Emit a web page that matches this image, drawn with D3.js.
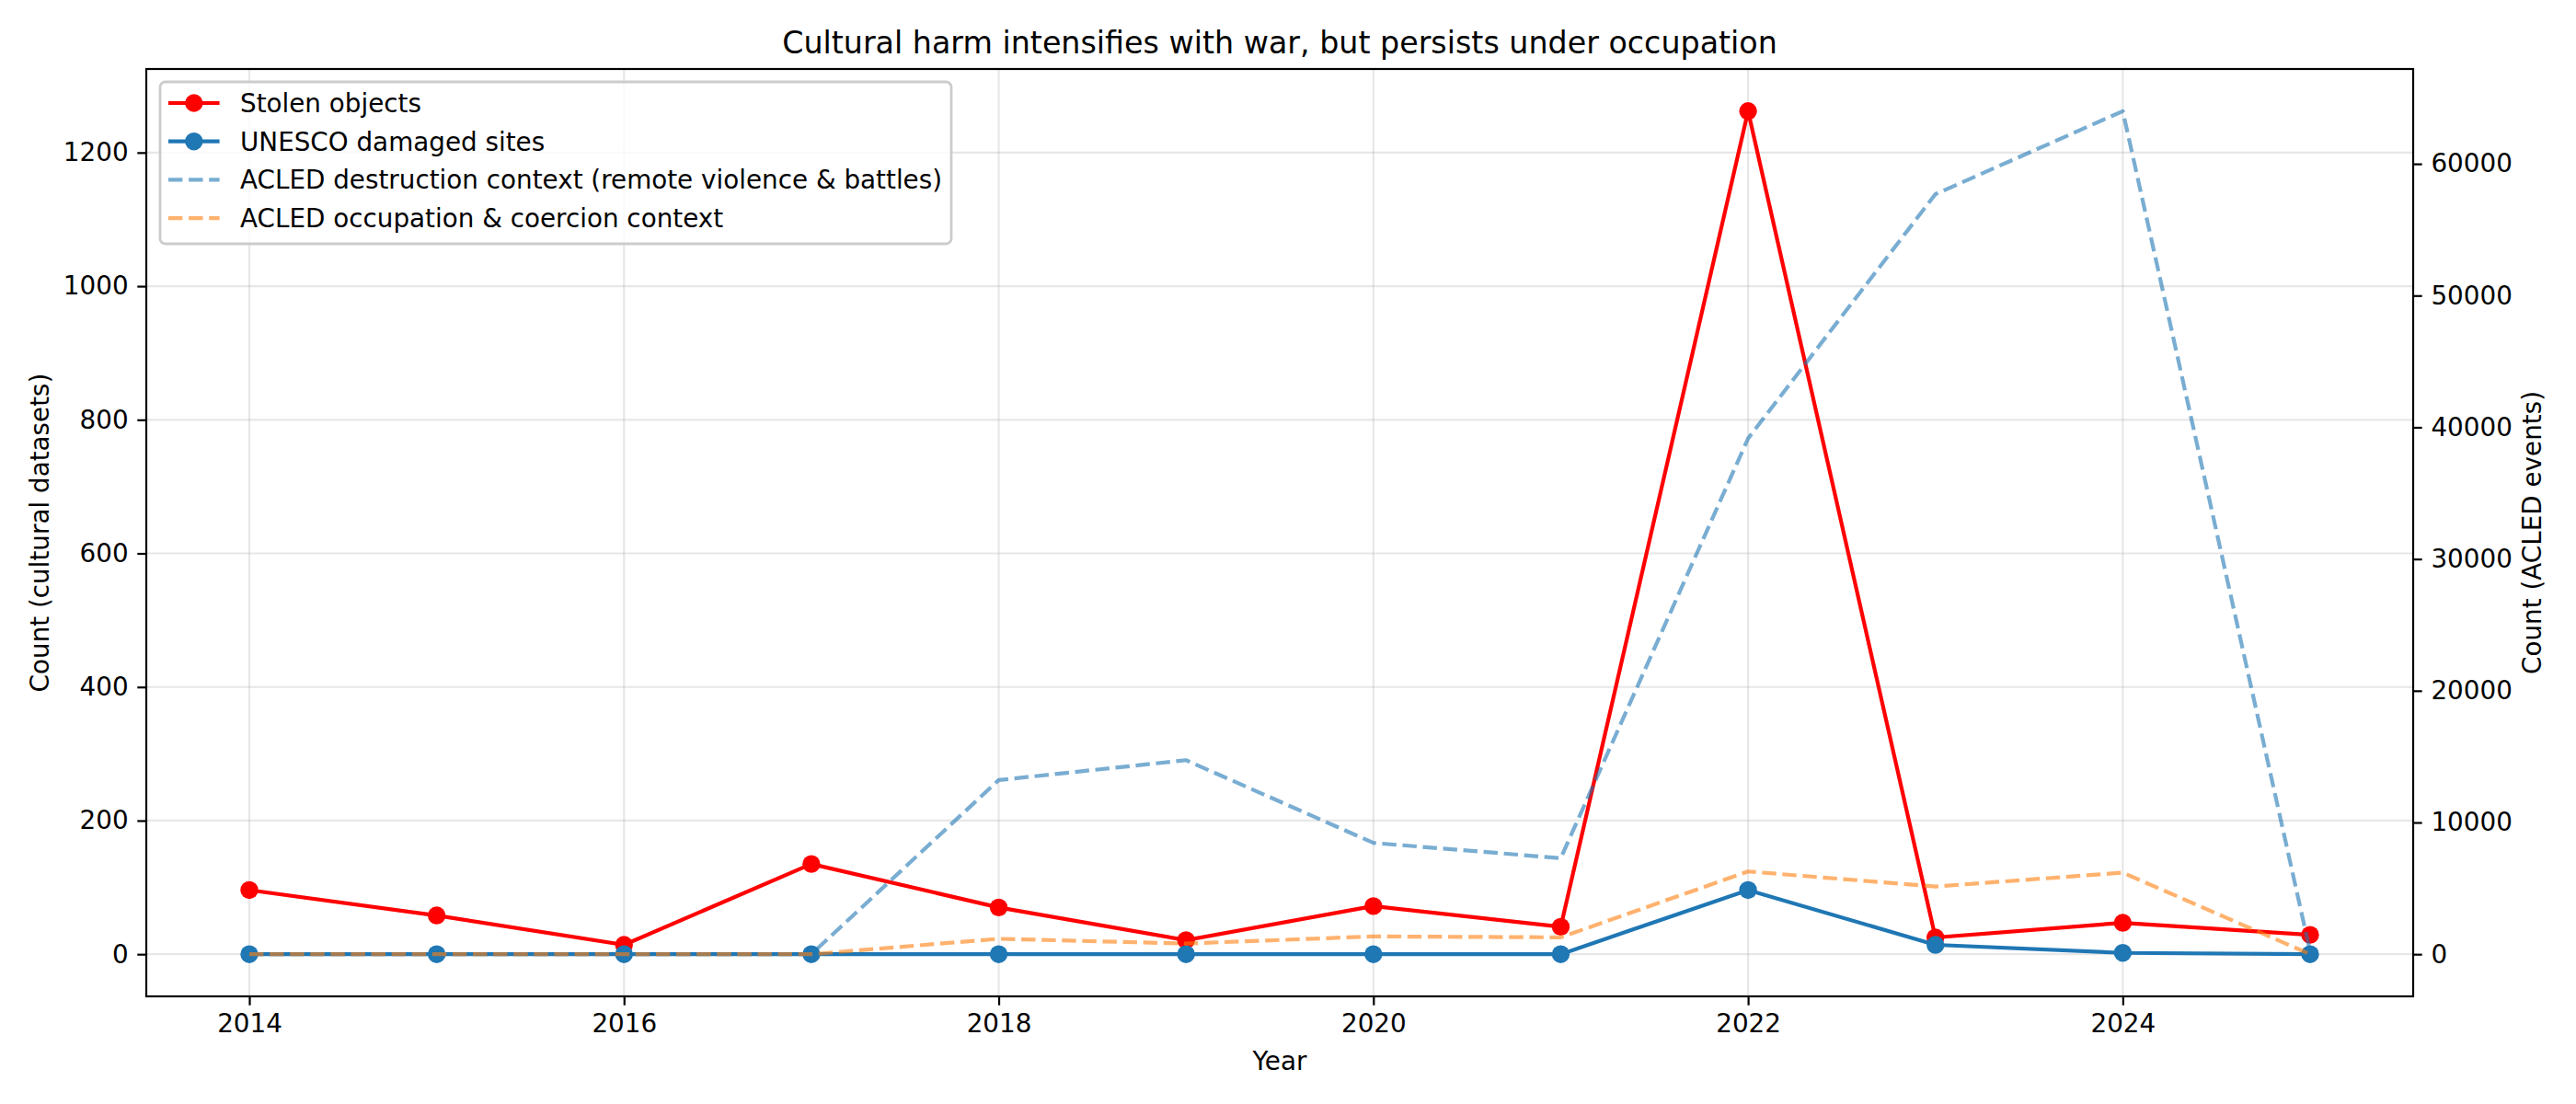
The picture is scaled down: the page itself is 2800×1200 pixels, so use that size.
<!DOCTYPE html>
<html>
<head>
<meta charset="utf-8">
<script src="https://cdn.jsdelivr.net/npm/d3@7"></script>
<style>
  body { margin: 0; background: #fff; }
  svg { display: block; font-family: "DejaVu Sans", sans-serif; }
</style>
</head>
<body>
<svg id="chart" width="2800" height="1200"></svg>
<script>
const years = [2014, 2015, 2016, 2017, 2018, 2019, 2020, 2021, 2022, 2023, 2024, 2025];
const stolenObjects = [96, 58, 14, 135, 70, 21, 72, 41, 1262, 25, 47, 29];
const unescoSites = [0, 0, 0, 0, 0, 0, 0, 0, 96, 14, 2, 0];
const acledDestruction = [0, 0, 0, 0, 13220, 14730, 8450, 7290, 39150, 57700, 64000, 200];
const acledOccupation = [0, 0, 0, 0, 1170, 810, 1350, 1280, 6280, 5140, 6190, 0];

const xTicks = [2014, 2016, 2018, 2020, 2022, 2024];
const leftTicks = [0, 200, 400, 600, 800, 1000, 1200];
const rightTicks = [0, 10000, 20000, 30000, 40000, 50000, 60000];

const seriesLabels = [
    "Stolen objects",
    "UNESCO damaged sites",
    "ACLED destruction context (remote violence & battles)",
    "ACLED occupation & coercion context"
];

const W = 2800, H = 1200;
const plot = { left: 159, right: 2623, top: 75, bottom: 1083 };
const fs = 27.8;
const markerR = 9.7;

const svg = d3.select("#chart");

// matplotlib style 5% margins
function padded(lo, hi) {
    const m = (hi - lo) * 0.05;
    return [lo - m, hi + m];
}

const x = d3.scaleLinear()
    .domain(padded(d3.min(years), d3.max(years)))
    .range([plot.left, plot.right]);

const yLeft = d3.scaleLinear()
    .domain(padded(0, d3.max([...stolenObjects, ...unescoSites])))
    .range([plot.bottom, plot.top]);

const yRight = d3.scaleLinear()
    .domain(padded(0, d3.max([...acledDestruction, ...acledOccupation])))
    .range([plot.bottom, plot.top]);

// grid (left axis only)
const grid = svg.append("g").attr("stroke", "#b0b0b0").attr("stroke-opacity", 0.3).attr("stroke-width", 2.2);
grid.selectAll(".gx").data(xTicks).join("line")
    .attr("x1", d => x(d)).attr("x2", d => x(d))
    .attr("y1", plot.top).attr("y2", plot.bottom);
grid.selectAll(".gy").data(leftTicks).join("line")
    .attr("x1", plot.left).attr("x2", plot.right)
    .attr("y1", d => yLeft(d)).attr("y2", d => yLeft(d));

function styleAxis(g) {
    g.select(".domain").remove();
    g.selectAll(".tick line").attr("stroke", "#000").attr("stroke-width", 2.2);
    g.selectAll(".tick text").attr("fill", "#000").style("font-size", fs + "px")
        .style("font-family", "DejaVu Sans");
}

svg.append("g")
    .attr("transform", `translate(0,${plot.bottom})`)
    .call(d3.axisBottom(x).tickValues(xTicks).tickFormat(d3.format("d")).tickSize(9.7).tickPadding(9.7))
    .call(styleAxis);

svg.append("g")
    .attr("transform", `translate(${plot.left},0)`)
    .call(d3.axisLeft(yLeft).tickValues(leftTicks).tickFormat(d3.format("d")).tickSize(9.7).tickPadding(9.7))
    .call(styleAxis);

svg.append("g")
    .attr("transform", `translate(${plot.right},0)`)
    .call(d3.axisRight(yRight).tickValues(rightTicks).tickFormat(d3.format("d")).tickSize(9.7).tickPadding(9.7))
    .call(styleAxis);

// series
const lineLeft = vals => d3.line().x((d, i) => x(years[i])).y(d => yLeft(d))(vals);
const lineRight = vals => d3.line().x((d, i) => x(years[i])).y(d => yRight(d))(vals);

const series = [
    { vals: stolenObjects, path: lineLeft, scale: yLeft, color: "#ff0000", dash: null, opacity: 1, marker: true },
    { vals: unescoSites, path: lineLeft, scale: yLeft, color: "#1f77b4", dash: null, opacity: 1, marker: true },
    { vals: acledDestruction, path: lineRight, scale: yRight, color: "#1f77b4", dash: "15.4,6.7", opacity: 0.6, marker: false },
    { vals: acledOccupation, path: lineRight, scale: yRight, color: "#ff7f0e", dash: "15.4,6.7", opacity: 0.6, marker: false }
];

const marks = svg.append("g");
series.forEach(s => {
    const g = marks.append("g");
    g.append("path")
        .attr("d", s.path(s.vals))
        .attr("fill", "none")
        .attr("stroke", s.color)
        .attr("stroke-width", 4.2)
        .attr("stroke-opacity", s.opacity)
        .attr("stroke-dasharray", s.dash)
        .attr("stroke-linejoin", "round");
    if (s.marker) {
        g.selectAll("circle").data(s.vals).join("circle")
            .attr("cx", (d, i) => x(years[i]))
            .attr("cy", d => s.scale(d))
            .attr("r", markerR)
            .attr("fill", s.color);
    }
});

// frame
svg.append("rect")
    .attr("x", plot.left).attr("y", plot.top)
    .attr("width", plot.right - plot.left).attr("height", plot.bottom - plot.top)
    .attr("fill", "none").attr("stroke", "#000").attr("stroke-width", 2.2);

// title and labels
svg.append("text")
    .attr("x", (plot.left + plot.right) / 2).attr("y", 58)
    .attr("text-anchor", "middle").style("font-size", "33.3px")
    .text("Cultural harm intensifies with war, but persists under occupation");

svg.append("text")
    .attr("x", (plot.left + plot.right) / 2).attr("y", 1163)
    .attr("text-anchor", "middle").style("font-size", fs + "px")
    .text("Year");

const midY = (plot.top + plot.bottom) / 2;
svg.append("text")
    .attr("transform", `translate(53,${midY}) rotate(-90)`)
    .attr("text-anchor", "middle").style("font-size", fs + "px")
    .text("Count (cultural datasets)");

svg.append("text")
    .attr("transform", `translate(2762,${midY}) rotate(-90)`)
    .attr("text-anchor", "middle").style("font-size", fs + "px")
    .text("Count (ACLED events)");

// legend
const legend = svg.append("g");
legend.append("rect")
    .attr("x", 174).attr("y", 89).attr("width", 860).attr("height", 176)
    .attr("rx", 5.6).attr("ry", 5.6)
    .attr("fill", "#fff").attr("fill-opacity", 0.8)
    .attr("stroke", "#cccccc").attr("stroke-width", 2.8);

const rowY = i => 112 + i * 41.7;
series.forEach((s, i) => {
    const row = legend.append("g");
    row.append("line")
        .attr("x1", 183).attr("x2", 238.6)
        .attr("y1", rowY(i)).attr("y2", rowY(i))
        .attr("stroke", s.color).attr("stroke-width", 4.2)
        .attr("stroke-opacity", s.opacity)
        .attr("stroke-dasharray", s.dash);
    if (s.marker) {
        row.append("circle").attr("cx", 210.8).attr("cy", rowY(i)).attr("r", markerR).attr("fill", s.color);
    }
    row.append("text")
        .attr("x", 261).attr("y", rowY(i) + 10)
        .style("font-size", fs + "px")
        .text(seriesLabels[i]);
});
</script>
</body>
</html>
